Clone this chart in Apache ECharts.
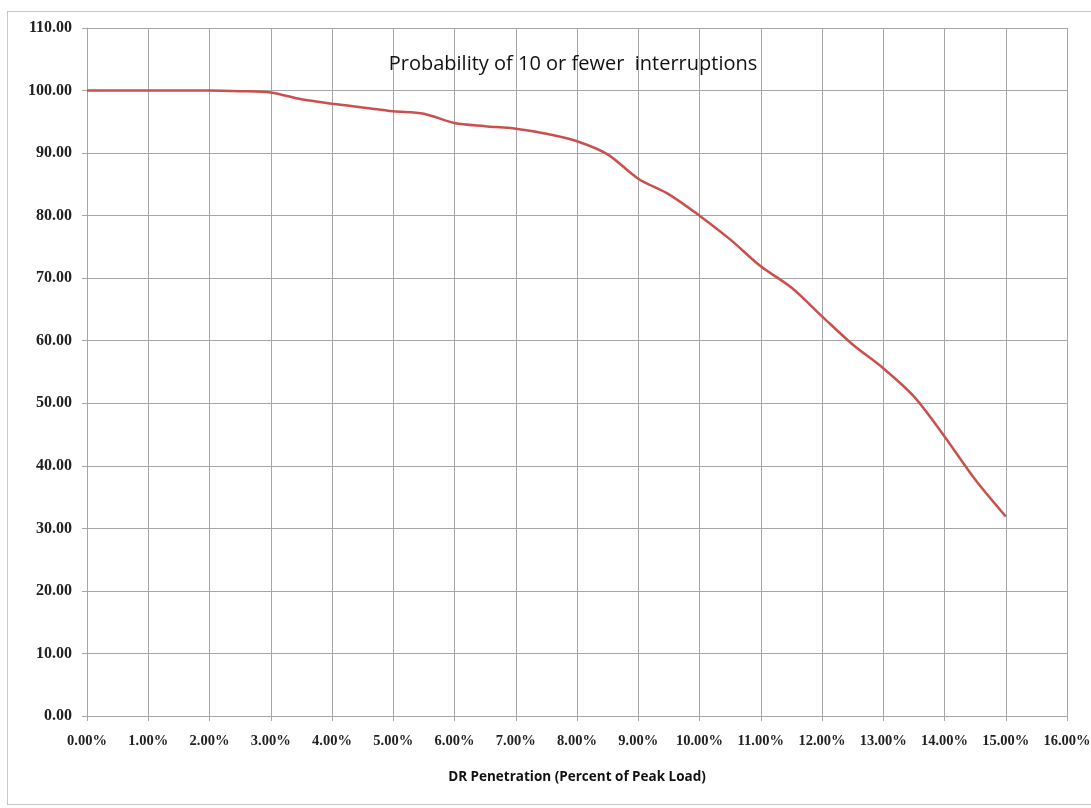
<!DOCTYPE html>
<html>
<head>
<meta charset="utf-8">
<script src="https://cdn.jsdelivr.net/npm/echarts@6/dist/echarts.min.js"></script>
<style>
html,body{margin:0;padding:0;background:#fff;}
#frame{position:absolute;left:7px;top:11px;width:1090px;height:794px;border:1px solid #c8c8c8;box-sizing:border-box;}
#chart{position:absolute;left:0;top:0;width:1091px;height:808px;}
</style>
</head>
<body>
<div id="frame"></div>
<div id="chart"></div>
<script>
const titleText = "Probability of 10 or fewer  interruptions";
const xAxisTitle = "DR Penetration (Percent of Peak Load)";
const penetration = [0, 0.5, 1, 1.5, 2, 2.5, 3, 3.5, 4, 4.5, 5, 5.5, 6, 6.5, 7, 7.5, 8, 8.5, 9, 9.5, 10, 10.5, 11, 11.5, 12, 12.5, 13, 13.5, 14, 14.5, 15];
const probability = [100, 100, 100, 100, 100, 99.9, 99.7, 98.6, 97.9, 97.3, 96.7, 96.3, 94.8, 94.3, 93.9, 93.1, 91.9, 89.8, 85.9, 83.4, 80.0, 76.2, 71.9, 68.5, 63.9, 59.4, 55.6, 51.1, 44.7, 37.8, 31.9];

const chart = echarts.init(document.getElementById('chart'), null, {renderer:'canvas'});
const gridColor = '#a6a6a6';
chart.setOption({
  backgroundColor: 'transparent',
  animation: false,
  title: {
    text: titleText,
    left: 568, top: 49, textAlign: 'center',
    textStyle: {fontFamily: 'Open Sans', fontSize: 20, fontWeight: 'normal', color: '#111'}
  },
  grid: {left: 87, right: 24, top: 28, bottom: 92, containLabel: false, outerBoundsMode: 'none'},
  xAxis: {
    type: 'value', min: 0, max: 16, interval: 1,
    name: xAxisTitle, nameLocation: 'middle', nameGap: 54,
    nameTextStyle: {fontFamily: 'Open Sans', fontSize: 13.5, fontWeight: 'bold', color: '#111'},
    axisLine: {show: true, lineStyle: {color: gridColor, width: 1}},
    axisTick: {show: true, length: 5, lineStyle: {color: gridColor}},
    splitLine: {show: true, lineStyle: {color: gridColor, width: 1}},
    axisLabel: {
      margin: 18,
      fontFamily: 'Liberation Serif', fontSize: 14.5, fontWeight: 'bold', color: '#222',
      formatter: v => v.toFixed(2) + '%'
    }
  },
  yAxis: {
    type: 'value', min: 0, max: 110, interval: 10,
    axisLine: {show: true, lineStyle: {color: gridColor, width: 1}},
    axisTick: {show: true, length: 5, lineStyle: {color: gridColor}},
    splitLine: {show: true, lineStyle: {color: gridColor, width: 1}},
    axisLabel: {
      margin: 15,
      fontFamily: 'Liberation Serif', fontSize: 16, fontWeight: 'bold', color: '#222',
      formatter: v => v.toFixed(2)
    }
  },
  series: [{
    type: 'line',
    data: penetration.map((p, i) => [p, probability[i]]),
    smooth: 0.3,
    showSymbol: false,
    lineStyle: {color: '#c9504e', width: 2.5}
  }]
});
</script>
</body>
</html>
